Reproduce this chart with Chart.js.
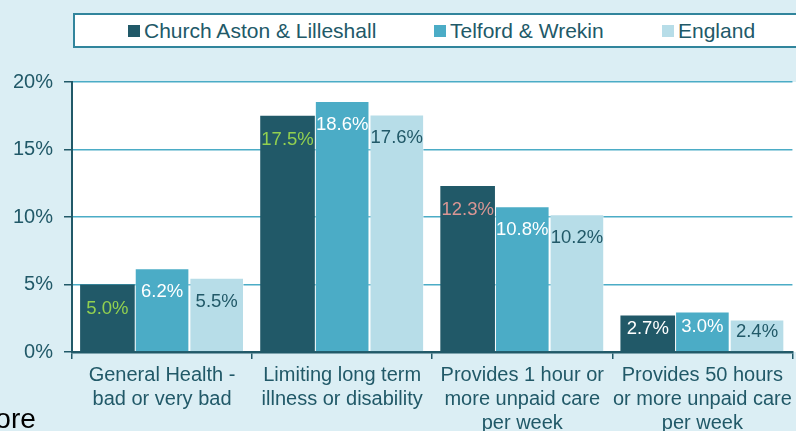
<!DOCTYPE html>
<html>
<head>
<meta charset="utf-8">
<script src="https://cdn.jsdelivr.net/npm/chart.js@4/dist/chart.umd.min.js"></script>
<style>
  html, body { margin: 0; padding: 0; }
  body {
    width: 796px; height: 431px; overflow: hidden; position: relative;
    background: #dbeef4;
    font-family: "Liberation Sans", Arial, sans-serif;
  }
  #chart { position: absolute; left: 0; top: 0; }
  #legend {
    position: absolute; left: 73px; top: 13px; width: 740px; height: 31px;
    background: #fff; border: 2px solid #31859c;
  }
  .item { position: absolute; top: 4px; font-size: 21px; line-height: 24px; color: #215968; white-space: nowrap; }
  .item i { position: absolute; left: -16px; top: 6px; width: 12px; height: 12px; }
  #tail {
    position: absolute; left: -28px; top: 403px; font-size: 28px; line-height: 32px;
    color: #000; font-family: "Liberation Sans", Arial, sans-serif;
  }
</style>
</head>
<body>
<canvas id="chart" width="796" height="431"></canvas>
<div id="legend"></div>
<div id="tail">more</div>
<script>
// === Data ===
const categories = [
  ["General Health -", "bad or very bad"],
  ["Limiting long term", "illness or disability"],
  ["Provides 1 hour or", "more unpaid care", "per week"],
  ["Provides 50 hours", "or more unpaid care", "per week"],
];
const seriesNames = ["Church Aston & Lilleshall", "Telford & Wrekin", "England"];
const churchAston = [5.0, 17.5, 12.3, 2.7];
const telford = [6.2, 18.6, 10.8, 3.0];
const england = [5.5, 17.6, 10.2, 2.4];

// === Styles ===
const dark = "#215968";
const barColors = ["#215968", "#4bacc6", "#b7dde8"];
const labelColors = [
  ["#92d050", "#92d050", "#d99694", "#ffffff"],
  ["#ffffff", "#ffffff", "#ffffff", "#ffffff"],
  [dark, dark, dark, dark],
];

// legend (html, real text)
const legendX = [69, 375, 603];
const legend = document.getElementById("legend");
seriesNames.forEach((name, i) => {
  const s = document.createElement("span");
  s.className = "item";
  s.style.left = legendX[i] + "px";
  s.innerHTML = '<i style="background:' + barColors[i] + '"></i>';
  s.appendChild(document.createTextNode(name));
  legend.appendChild(s);
});

const plotBg = {
  id: "plotBg",
  beforeDraw(chart) {
    const { ctx, chartArea } = chart;
    ctx.save();
    ctx.fillStyle = "#ffffff";
    ctx.fillRect(chartArea.left, chartArea.top, chart.width - chartArea.left, chartArea.bottom - chartArea.top);
    ctx.restore();
  },
};

const barLabels = {
  id: "barLabels",
  afterDatasetsDraw(chart) {
    const ctx = chart.ctx;
    ctx.save();
    ctx.font = '18.5px "Liberation Sans", Arial, sans-serif';
    ctx.textAlign = "center";
    ctx.textBaseline = "middle";
    chart.data.datasets.forEach((ds, i) => {
      chart.getDatasetMeta(i).data.forEach((bar, j) => {
        const y = Math.min(bar.y + 24, (bar.y + bar.base) / 2 - 4);
        ctx.fillStyle = labelColors[i][j];
        ctx.fillText(ds.data[j].toFixed(1) + "%", bar.x, y);
      });
    });
    ctx.restore();
  },
};

new Chart(document.getElementById("chart"), {
  type: "bar",
  data: {
    labels: categories,
    datasets: [churchAston, telford, england].map((vals, i) => ({
      label: seriesNames[i],
      data: vals,
      backgroundColor: barColors[i],
      borderColor: i === 0 ? barColors[0] : "rgba(255,255,255,0.45)",
      borderWidth: i === 0 ? 0 : 1,
      categoryPercentage: 0.91,
      barPercentage: 1,
    })),
  },
  options: {
    responsive: false,
    animation: false,
    devicePixelRatio: 1,
    layout: { padding: { top: 82, right: 1, left: 0, bottom: 0 } },
    plugins: { legend: { display: false }, tooltip: { enabled: false } },
    scales: {
      x: {
        afterFit: (s) => { s.height = 79; },
        grid: { offset: true, drawOnChartArea: false, color: dark, tickLength: 7, lineWidth: 1.5 },
        border: { color: dark, width: 2.5 },
        ticks: {
          color: dark, padding: 4, maxRotation: 0, autoSkip: false,
          font: { family: '"Liberation Sans", Arial, sans-serif', size: 20, lineHeight: 1.2 },
        },
      },
      y: {
        min: 0, max: 20,
        afterFit: (s) => { s.width = 72; },
        grid: { color: "#4bacc6", lineWidth: 1.5, tickColor: dark, tickLength: 8 },
        border: { color: dark, width: 2 },
        ticks: {
          stepSize: 5, color: dark, padding: 11,
          font: { family: '"Liberation Sans", Arial, sans-serif', size: 20 },
          callback: (v) => v + "%",
        },
      },
    },
  },
  plugins: [plotBg, barLabels],
});
</script>
</body>
</html>
